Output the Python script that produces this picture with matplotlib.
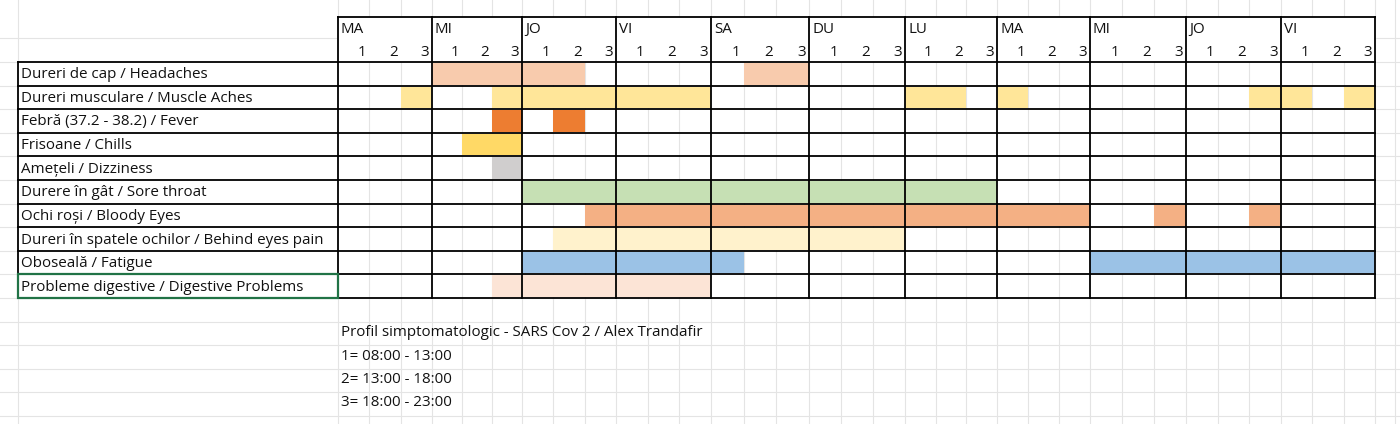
import matplotlib.pyplot as plt
from matplotlib.patches import Rectangle

days = ["MA", "MI", "JO", "VI", "SA", "DU", "LU", "MA", "MI", "JO", "VI"]
symptoms = ["Dureri de cap / Headaches", "Dureri musculare / Muscle Aches",
            "Febră (37.2 - 38.2) / Fever", "Frisoane / Chills", "Amețeli / Dizziness",
            "Durere în gât / Sore throat", "Ochi roși / Bloody Eyes",
            "Dureri în spatele ochilor / Behind eyes pain", "Oboseală / Fatigue",
            "Probleme digestive / Digestive Problems"]
# active slots (day index * 3 + period), 33 slots in total
active = [
    [3, 4, 5, 6, 7, 13, 14],
    [2, 5, 6, 7, 8, 9, 10, 11, 18, 19, 21, 29, 30, 32],
    [5, 7],
    [4, 5],
    [5],
    list(range(6, 21)),
    list(range(8, 24)) + [26, 29],
    list(range(7, 18)),
    list(range(6, 13)) + list(range(24, 33)),
    list(range(5, 12)),
]
colors = ["#F8CBAD", "#FFE699", "#ED7D31", "#FFD966", "#D0CECE",
          "#C6E0B4", "#F4B084", "#FFF2CC", "#9BC2E6", "#FCE4D6"]
notes = ["Profil simptomatologic - SARS Cov 2 / Alex Trandafir",
         "1= 08:00 - 13:00", "2= 13:00 - 18:00", "3= 18:00 - 23:00"]

# layout in pixels
day_x = [338, 432, 522, 616, 711, 809, 905, 997, 1090, 1186, 1281, 1375]
top, y_day, y_sub, row_h = 17, 40, 62, 23.6
label_x0 = 18

fig = plt.figure(figsize=(14, 4.24), dpi=100)
ax = fig.add_axes([0, 0, 1, 1])
ax.set_xlim(0, 1400)
ax.set_ylim(424, 0)
ax.axis("off")
font = dict(family="Open Sans", fontsize=10.9, color="#111111")

def slot_x(s):
    d, p = divmod(s, 3)
    w = (day_x[d + 1] - day_x[d]) / 3
    return day_x[d] + p * w, w

# background spreadsheet grid
for k in range(-1, 19):
    y = y_sub + k * row_h
    ax.plot([0, 1400], [y, y], color="#E4E4E4", lw=0.8, zorder=0)
for s in range(34):
    x = slot_x(s)[0] if s < 33 else day_x[-1]
    ax.plot([x, x], [0, 424], color="#E4E4E4", lw=0.8, zorder=0)
for x in [18, 1395]:
    ax.plot([x, x], [0, 424], color="#E4E4E4", lw=0.8, zorder=0)

# header
ax.add_patch(Rectangle((day_x[0], top), day_x[-1] - day_x[0], y_sub - top, color="white", zorder=1))
for d, name in enumerate(days):
    ax.text(day_x[d] + 3, (top + y_day) / 2 + 1, name, ha="left", va="center", zorder=3, **font)
    for p in range(3):
        x, w = slot_x(d * 3 + p)
        ax.text(x + w - 3, (y_day + y_sub) / 2 + 1, str(p + 1), ha="right", va="center", zorder=3, **font)

# body
y_end = y_sub + row_h * len(symptoms)
ax.add_patch(Rectangle((label_x0, y_sub), day_x[-1] - label_x0, y_end - y_sub, color="white", zorder=1))
for r, (name, slots, c) in enumerate(zip(symptoms, active, colors)):
    y = y_sub + r * row_h
    ax.text(label_x0 + 3, y + row_h / 2 + 1, name, ha="left", va="center", zorder=3, **font)
    for s in slots:
        x, w = slot_x(s)
        ax.add_patch(Rectangle((x, y + 1), w, row_h - 2, color=c, lw=0, zorder=2))
    for s in range(33):
        x, w = slot_x(s)
        if s % 3:
            ax.plot([x, x], [y, y + row_h], color="#E4E4E4", lw=0.8, zorder=1.5)

# black borders
for r in range(len(symptoms) + 1):
    y = y_sub + r * row_h
    ax.plot([label_x0, day_x[-1]], [y, y], color="black", lw=1.3, zorder=4)
ax.plot([day_x[0], day_x[-1]], [top, top], color="black", lw=1.3, zorder=4)
for x in day_x:
    ax.plot([x, x], [top, y_end], color="black", lw=1.3, zorder=4)
ax.plot([label_x0, label_x0], [y_sub, y_end], color="black", lw=1.3, zorder=4)
ax.add_patch(Rectangle((label_x0, y_end - row_h), day_x[0] - label_x0, row_h,
                       fill=False, ec="#217346", lw=1.6, zorder=5))

for i, t in enumerate(notes):
    ax.text(341, 333 + i * 23.3, t, ha="left", va="center", **font)

fig.savefig("out.png", dpi=100)
